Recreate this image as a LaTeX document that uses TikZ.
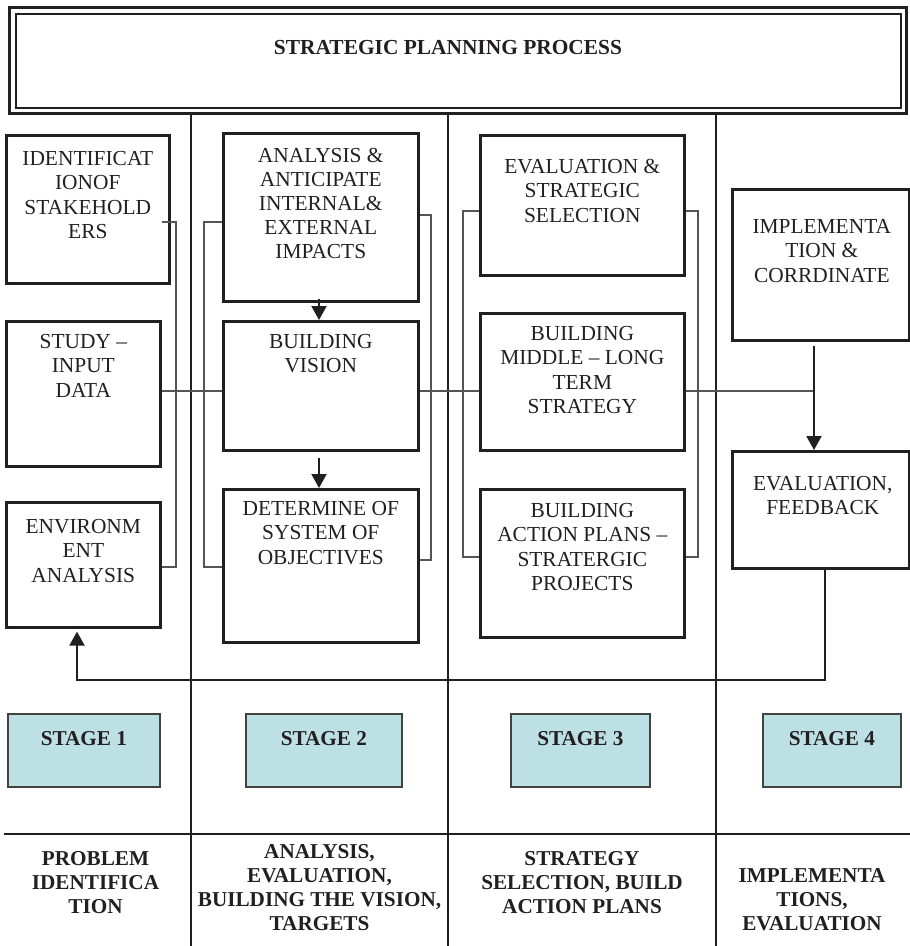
\documentclass[tikz,border=0pt]{standalone}
\usepackage{fontspec}
\setmainfont{Liberation Serif}
\usetikzlibrary{calc,arrows.meta}
\definecolor{ink}{RGB}{35,31,32}
\definecolor{stagefill}{RGB}{188,224,228}
\definecolor{thinline}{RGB}{85,85,85}

\begin{document}
\begin{tikzpicture}[x=1pt,y=-1pt,
  box/.style={draw=ink, line width=2.6pt, anchor=north west, inner sep=0pt},
  boxtext/.style={anchor=north, inner sep=0pt, align=center, text=ink,
    font=\fontsize{21.4}{24.5}\selectfont},
  headtext/.style={anchor=north, inner sep=0pt, align=center, text=ink,
    font=\fontsize{21.2}{24}\selectfont\bfseries},
  colline/.style={draw=ink, line width=2pt},
  bracket/.style={draw=thinline, line width=1.1pt},
  flow/.style={draw=ink, line width=2pt, -{Triangle[width=15pt,length=14pt]}},
  stagebox/.style={draw=ink!85, line width=1.8pt, fill=stagefill,
    anchor=north west, inner sep=0pt, minimum height=73pt},
]
% page frame
\useasboundingbox (0,0) rectangle (910,946);
\fill[white] (0,0) rectangle (910,946);

% title banner with double border
\node[draw=ink, line width=3pt, anchor=north west, inner sep=0pt,
      minimum width=897pt, minimum height=106pt] (title) at (8,6) {};
\node[draw=ink, line width=2pt, inner sep=0pt,
      minimum width=885pt, minimum height=94pt] (titlein) at (title.center) {};
\node[text=ink, inner sep=0pt, anchor=base,
      font=\fontsize{21.4}{24.5}\selectfont\bfseries] (titletext) at (448,54)
      {STRATEGIC PLANNING PROCESS};

% column separators and base rule
\coordinate (c1) at (191,112);
\coordinate (c2) at (448,112);
\coordinate (c3) at (716,112);
\draw[colline] (c1) -- (c1 |- 0,946);
\draw[colline] (c2) -- (c2 |- 0,946);
\draw[colline] (c3) -- (c3 |- 0,946);
\coordinate (baseL) at (4,834);
\coordinate (baseR) at (910,834);
\draw[colline] (baseL) -- (baseR);

% stage 1 boxes
\node[box, minimum width=163pt, minimum height=148pt] (ident) at (5,134) {};
\node[box, minimum width=154pt, minimum height=145pt] (study) at (5,320) {};
\node[box, minimum width=154pt, minimum height=125pt] (env)   at (5,501) {};
\node[boxtext] (identt) at ($(ident.north)+(0,17)$) {IDENTIFICAT\\IONOF\\STAKEHOLD\\ERS};
\node[boxtext] (studyt) at ($(study.north)+(0,14)$) {STUDY –\\INPUT\\DATA};
\node[boxtext] (envt)   at ($(env.north)+(0,18)$)   {ENVIRONM\\ENT\\ANALYSIS};

% stage 2 boxes
\node[box, minimum width=195pt, minimum height=168pt] (anal)   at (222,132) {};
\node[box, minimum width=195pt, minimum height=129pt] (vision) at (222,320) {};
\node[box, minimum width=195pt, minimum height=153pt] (determ) at (222,488) {};
\node[boxtext, font=\fontsize{21.4}{24}\selectfont] (analt) at ($(anal.north)+(0,16)$)
  {ANALYSIS \&\\ANTICIPATE\\INTERNAL\&\\EXTERNAL\\IMPACTS};
\node[boxtext] (visiont) at ($(vision.north)+(0,14)$) {BUILDING\\VISION};
\node[boxtext] (determt) at ($(determ.north)+(0,13)$) {DETERMINE OF\\SYSTEM OF\\OBJECTIVES};

% stage 3 boxes
\node[box, minimum width=204pt, minimum height=140pt] (evalsel) at (479,134) {};
\node[box, minimum width=204pt, minimum height=137pt] (middle)  at (479,312) {};
\node[box, minimum width=204pt, minimum height=148pt] (action)  at (479,488) {};
\node[boxtext] (evalselt) at ($(evalsel.north)+(0,25)$) {EVALUATION \&\\STRATEGIC\\SELECTION};
\node[boxtext] (middlet)  at ($(middle.north)+(0,14)$)  {BUILDING\\MIDDLE – LONG\\TERM\\STRATEGY};
\node[boxtext] (actiont)  at ($(action.north)+(0,15)$)  {BUILDING\\ACTION PLANS –\\STRATERGIC\\PROJECTS};

% stage 4 boxes
\node[box, minimum width=177pt, minimum height=151pt] (impl) at (731,188) {};
\node[box, minimum width=177pt, minimum height=117pt] (feed) at (731,450) {};
\node[boxtext] (implt) at ($(impl.north)+(1,31)$) {IMPLEMENTA\\TION \&\\CORRDINATE};
\node[boxtext] (feedt) at ($(feed.north)+(2,26)$) {EVALUATION,\\FEEDBACK};

% bracket connectors
\coordinate (b1top) at (176,222); \coordinate (b1bot) at (176,567);
\coordinate (b2top) at (204,222); \coordinate (b2bot) at (204,567);
\coordinate (b3top) at (431,215); \coordinate (b3bot) at (431,560);
\coordinate (b4top) at (463,211); \coordinate (b4bot) at (463,557);
\coordinate (b5top) at (698,211); \coordinate (b5bot) at (698,557);
\draw[bracket] (b1top -| env.east) -- (b1top) -- (b1bot) -- (env.east |- b1bot);
\draw[bracket] (anal.west |- b2top) -- (b2top) -- (b2bot) -- (determ.west |- b2bot);
\draw[bracket] (anal.east |- b3top) -- (b3top) -- (b3bot) -- (determ.east |- b3bot);
\draw[bracket] (evalsel.west |- b4top) -- (b4top) -- (b4bot) -- (action.west |- b4bot);
\draw[bracket] (evalsel.east |- b5top) -- (b5top) -- (b5bot) -- (action.east |- b5bot);

% horizontal link through the middle row
\coordinate (mid) at (0,391);
\coordinate (implx) at (814,0);
\draw[bracket] (study.east |- mid) -- (vision.west |- mid);
\draw[bracket] (vision.east |- mid) -- (middle.west |- mid);
\draw[bracket] (middle.east |- mid) -- (implx |- mid);

% flow arrows
\draw[flow, shorten <=-4pt] (anal.south -| 319,0) -- (vision.north -| 319,0);
\draw[flow, shorten <=6pt] (vision.south -| 319,0) -- (determ.north -| 319,0);
\draw[flow, shorten <=4pt] (implx |- impl.south) -- (implx |- feed.north);

% feedback loop back to stage 1
\coordinate (loopL) at (77,680);
\coordinate (loopR) at (825,680);
\draw[flow, shorten >=3pt] (loopR |- feed.south) -- (loopR) -- (loopL) -- (loopL |- env.south);

% stage labels
\node[stagebox, minimum width=152pt] (s1) at (7,713) {};
\node[stagebox, minimum width=156pt] (s2) at (245,713) {};
\node[stagebox, minimum width=139pt] (s3) at (510,713) {};
\node[stagebox, minimum width=138pt] (s4) at (762,713) {};
\node[headtext, anchor=base] (s1t) at ($(s1.north)+(0,32)$) {STAGE 1};
\node[headtext, anchor=base] (s2t) at ($(s2.north)+(0,32)$) {STAGE 2};
\node[headtext, anchor=base] (s3t) at ($(s3.north)+(0,32)$) {STAGE 3};
\node[headtext, anchor=base] (s4t) at ($(s4.north)+(0,32)$) {STAGE 4};

% phase descriptions
\node[headtext] (p1) at (95.5,851) {PROBLEM\\IDENTIFICA\\TION};
\node[headtext] (p2) at (319.5,844) {ANALYSIS,\\EVALUATION,\\BUILDING THE VISION,\\TARGETS};
\node[headtext] (p3) at (582,851) {STRATEGY\\SELECTION, BUILD\\ACTION PLANS};
\node[headtext] (p4) at (812,868) {IMPLEMENTA\\TIONS,\\EVALUATION};
\end{tikzpicture}
\end{document}
